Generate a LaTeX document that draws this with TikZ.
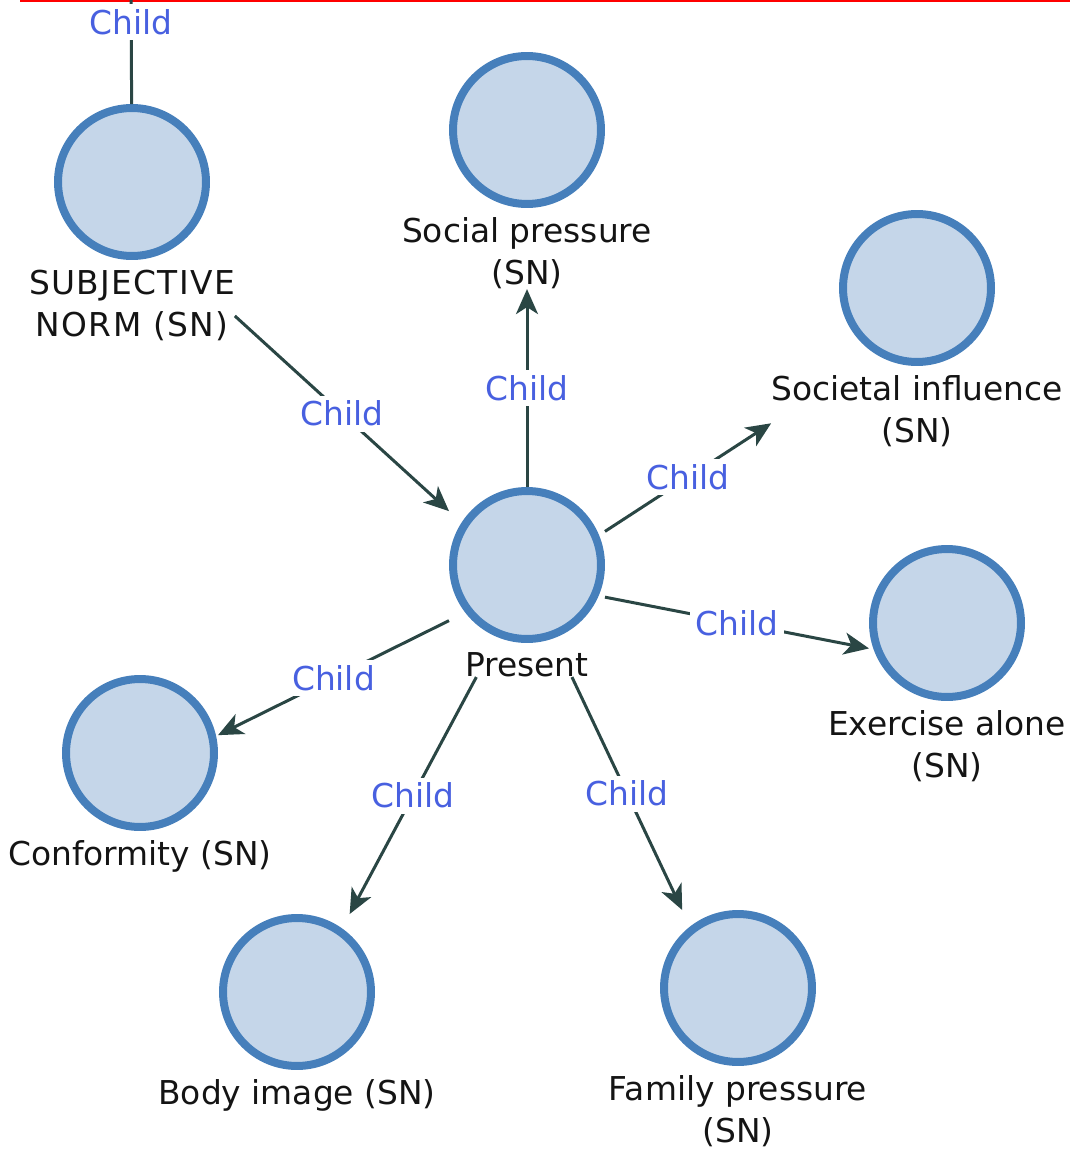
\documentclass[tikz,border=0pt]{standalone}
\usepackage{fontspec}
\setmainfont{DejaVu Sans}
\usetikzlibrary{positioning,fit,arrows.meta}

\definecolor{nodefill}{RGB}{197,214,233}
\definecolor{nodeborder}{RGB}{70,127,187}
\definecolor{linkcolor}{RGB}{42,70,68}
\definecolor{childblue}{RGB}{72,96,224}
\definecolor{captiontext}{RGB}{20,20,20}

\tikzset{
  concept/.style={circle, draw=nodeborder, fill=nodefill, line width=0.16cm,
    minimum size=2.96cm, inner sep=0pt},
  caption/.style={align=center, inner sep=0pt, outer sep=0pt, text=captiontext,
    font=\fontsize{18.7}{24}\selectfont},
  box/.style={inner sep=0pt, outer sep=0pt},
  child/.style={linkcolor, line width=0.06cm,
    -{Stealth[length=0.5cm,width=0.44cm,inset=0.14cm]}},
  childlabel/.style={fill=white, text=childblue, inner sep=3pt,
    font=\fontsize{18.7}{24}\selectfont}
}

\begin{document}
\begin{tikzpicture}[x=0.02cm, y=-0.02cm] % one unit = one pixel
    \useasboundingbox (0,0) rectangle (1076,1152);
    \clip (0,0) rectangle (1076,1152);

    % Red line at the top
    \draw[red, line width=0.05cm] (20,1.2) -- (1070,1.2);

    % Concepts
    \node[concept] (sn) at (132,182) {};
    \node[caption, below=5.5pt of sn] (snText)
        {\addfontfeature{LetterSpace=4}SUBJECTIVE\\\addfontfeature{LetterSpace=4}NORM (SN)};
    \node[concept] (social) at (527,130) {};
    \node[caption, below=5.5pt of social] (socialText) {Social pressure\\(SN)};
    \node[concept] (societal) at (917,288) {};
    \node[caption, below=5.5pt of societal] (societalText) {Societal influence\\(SN)};
    \node[concept] (present) at (527,565) {};
    \node[caption, below=5.5pt of present] (presentText) {Present};
    \node[concept] (exercise) at (947,623) {};
    \node[caption, below=5.5pt of exercise] (exerciseText) {Exercise alone\\(SN)};
    \node[concept] (conformity) at (140,753) {};
    \node[caption, below=5.5pt of conformity] (conformityText) {Conformity (SN)};
    \node[concept] (body) at (297,992) {};
    \node[caption, below=5.5pt of body] (bodyText) {Body image (SN)};
    \node[concept] (family) at (738,988) {};
    \node[caption, below=5.5pt of family] (familyText) {Family pressure\\(SN)};

    % Boxes round circle and caption
    \node[box, fit=(sn)(snText)] (snBox) {};
    \node[box, fit=(social)(socialText)] (socialBox) {};
    \node[box, fit=(societal)(societalText)] (societalBox) {};
    \node[box, fit=(present)(presentText)] (presentBox) {};
    \node[box, fit=(exercise)(exerciseText.south)] (exerciseBox) {};
    \node[box, fit=(conformity)(conformityText.south)] (conformityBox) {};
    \node[box, fit=(body)(bodyText)] (bodyBox) {};
    \node[box, fit=(family)(familyText)] (familyBox) {};
    \coordinate (snParent) at (131,-60);

    % Child links
    \draw[child] (snBox) -- node[childlabel] {Child} (snParent);
    \draw[child] (snBox) -- node[childlabel] {Child} (presentBox);
    \draw[child] (presentBox) -- node[childlabel] {Child} (socialBox);
    \draw[child] (presentBox) -- node[childlabel] {Child} (societalBox);
    \draw[child] (presentBox) -- node[childlabel] {Child} (exerciseBox);
    \draw[child] (presentBox) -- node[childlabel] {Child} (conformityBox);
    \draw[child] (presentBox) -- node[childlabel] {Child} (bodyBox);
    \draw[child] (presentBox) -- node[childlabel] {Child} (familyBox);
\end{tikzpicture}
\end{document}
